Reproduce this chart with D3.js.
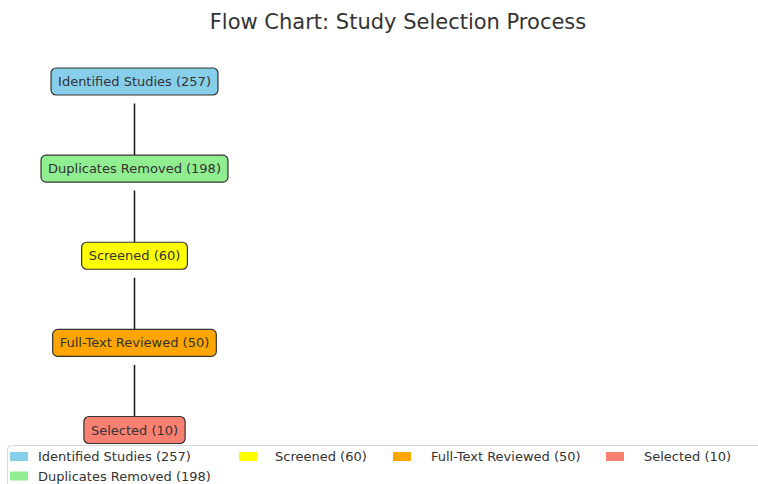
<!DOCTYPE html>
<html><head><meta charset="utf-8">
<script src="https://cdn.jsdelivr.net/npm/d3@7"></script>
<style>body{margin:0;background:#fff}svg{display:block}text{font-family:"DejaVu Sans",sans-serif}</style>
</head><body>
<script>
const stages = ["Identified Studies", "Duplicates Removed", "Screened", "Full-Text Reviewed", "Selected"];
const counts = [257, 198, 60, 50, 10];
const colors = ["#87CEEB", "#90EE90", "#FFFF00", "#FFA500", "#FA8072"];
const title = "Flow Chart: Study Selection Process";

const W = 758, H = 484;
const svg = d3.select("body").append("svg").attr("width", W).attr("height", H);
const labels = stages.map((s, i) => `${s} (${counts[i]})`);

svg.append("text").attr("x", 398).attr("y", 29).attr("text-anchor", "middle")
  .attr("font-size", 21).attr("fill", "#333").text(title);

const y = d3.scalePoint().domain(labels).range([81.5, 430]);
const cx = 134.5;

// connectors
svg.append("g").selectAll("line").data(labels.slice(0, -1)).join("line")
  .attr("x1", cx).attr("x2", cx)
  .attr("y1", d => y(d) + 22)
  .attr("y2", (d, i) => y(labels[i + 1]) - 13)
  .attr("stroke", "#111").attr("stroke-width", 1.5);

const nodes = svg.append("g").selectAll("g").data(labels).join("g")
  .attr("transform", d => `translate(${cx},${y(d)})`);
nodes.append("text").attr("text-anchor", "middle").attr("dy", "0.35em")
  .attr("font-size", 13).attr("fill", "#333").text(d => d)
  .each(function () {
    const b = this.getBBox();
    d3.select(this.parentNode).insert("rect", "text")
      .attr("x", b.x - 7).attr("y", -13.5).attr("width", b.width + 14).attr("height", 27)
      .attr("rx", 5)
      .attr("stroke", "#333").attr("stroke-width", 1.2);
  });
nodes.select("rect").attr("fill", d => colors[labels.indexOf(d)]);

// legend
const lg = svg.append("g");
lg.append("rect").attr("x", 7.5).attr("y", 445.5).attr("width", 800).attr("height", 80)
  .attr("rx", 4).attr("fill", "#fff").attr("stroke", "#d8d8d8");
const colX = [10, 239, 393, 606];
const colT = [38, 275, 431, 644];
const pos = [[0, 0], [0, 1], [1, 0], [2, 0], [3, 0]];
const items = lg.selectAll("g").data(labels).join("g")
  .attr("transform", (d, i) => `translate(${colX[pos[i][0]]},${452 + pos[i][1] * 19.5})`);
items.append("rect").attr("width", 18).attr("height", 9)
  .attr("fill", (d, i) => colors[i]);
items.append("text").attr("x", (d, i) => colT[pos[i][0]] - colX[pos[i][0]]).attr("y", 4.5)
  .attr("dy", "0.35em").attr("font-size", 13).attr("fill", "#333").text(d => d);
</script>
</body></html>
